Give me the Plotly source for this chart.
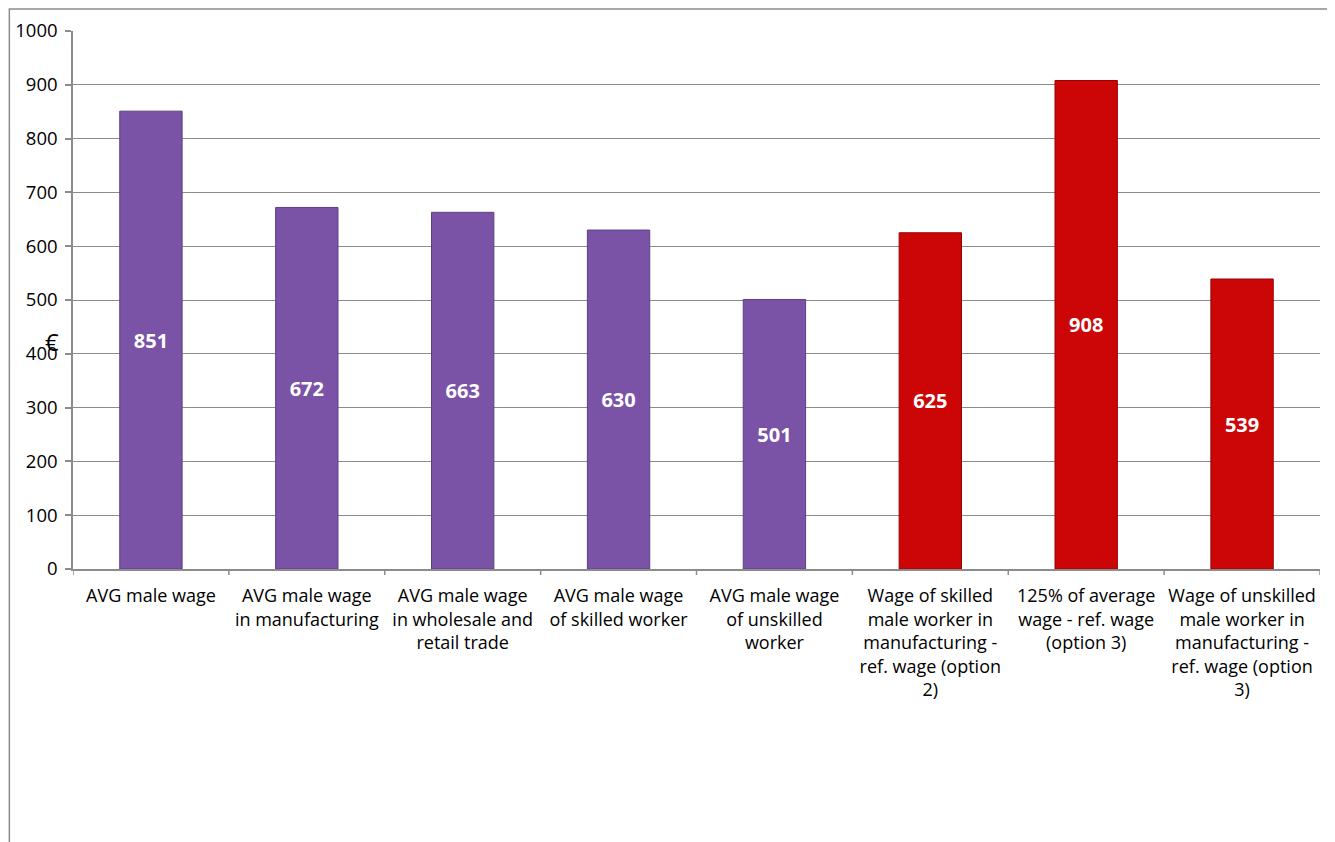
import plotly.graph_objects as go

categories = [
    "AVG male wage",
    "AVG male wage<br>in manufacturing",
    "AVG male wage<br>in wholesale and<br>retail trade",
    "AVG male wage<br>of skilled worker",
    "AVG male wage<br>of unskilled<br>worker",
    "Wage of skilled<br>male worker in<br>manufacturing -<br>ref. wage (option<br>2)",
    "125% of average<br>wage - ref. wage<br>(option 3)",
    "Wage of unskilled<br>male worker in<br>manufacturing -<br>ref. wage (option<br>3)",
]
values = [851, 672, 663, 630, 501, 625, 908, 539]
bar_colors = ["#7A53A6"] * 5 + ["#CC0606"] * 3
line_colors = ["#5E3F85"] * 5 + ["#9A0000"] * 3

OX, OY = 7.5, 7  # page offset
L, R, T, B = 72 - OX, 1335 - (1320 - OX), 30 - OY, 842 - (568 - OY)
PW, PH = 1335 - L - R, 842 - T - B

fig = go.Figure()
fig.add_trace(go.Bar(
    x=list(range(len(categories))),
    y=values,
    marker=dict(color=bar_colors, line=dict(color=line_colors, width=1)),
    width=0.40,
    text=[str(v) for v in values],
    textposition="inside",
    insidetextanchor="middle",
    textangle=0,
    textfont=dict(family="Open Sans", size=20, color="white", weight="bold"),
    showlegend=False,
    hoverinfo="skip",
))

fig.update_layout(
    width=1335, height=842,
    margin=dict(l=L, r=R, t=T, b=B, autoexpand=False),
    plot_bgcolor="white", paper_bgcolor="white",
    font=dict(family="Open Sans", size=18, color="black"),
)
fig.update_xaxes(
    automargin=False,
    tickmode="array",
    tickvals=list(range(len(categories))),
    ticktext=categories,
    tickangle=0,
    range=[-0.5, len(categories) - 0.5],
    showline=True, linecolor="#8C8C8C", linewidth=1.5,
    ticks="", showgrid=False, zeroline=False,
    ticklabelstandoff=10,
    tickfont=dict(family="Open Sans", size=18, color="black"),
)
fig.update_yaxes(
    automargin=False,
    range=[0, 1000], dtick=100,
    showline=True, linecolor="#8C8C8C", linewidth=1.5,
    ticks="outside", ticklen=6, tickcolor="#8C8C8C", tickwidth=1.5,
    showgrid=True, gridcolor="#8C8C8C", gridwidth=1,
    zeroline=False,
    ticklabelstandoff=4,
    tickfont=dict(family="Open Sans", size=18.5, color="black"),
)
# chart frame
fig.add_shape(type="rect", xref="paper", yref="paper",
              x0=(0.8 - L) / PW, x1=(1330 - OX - L) / PW,
              y0=(PH + T - 870) / PH, y1=(PH + T - 1) / PH,
              line=dict(color="#8C8C8C", width=1.5), layer="below")
# category boundary ticks
for i in range(len(categories) + 1):
    fig.add_shape(type="line", xref="x", yref="paper",
                  x0=i - 0.5, x1=i - 0.5, y0=0, y1=-6 / PH,
                  line=dict(color="#8C8C8C", width=1.5))
fig.add_annotation(xref="paper", yref="paper", x=(42 - 72) / PW, y=(568 - 340) / PH,
                   text="€", showarrow=False, font=dict(size=24, color="black", family="Open Sans"))

fig.write_html("out.html")
